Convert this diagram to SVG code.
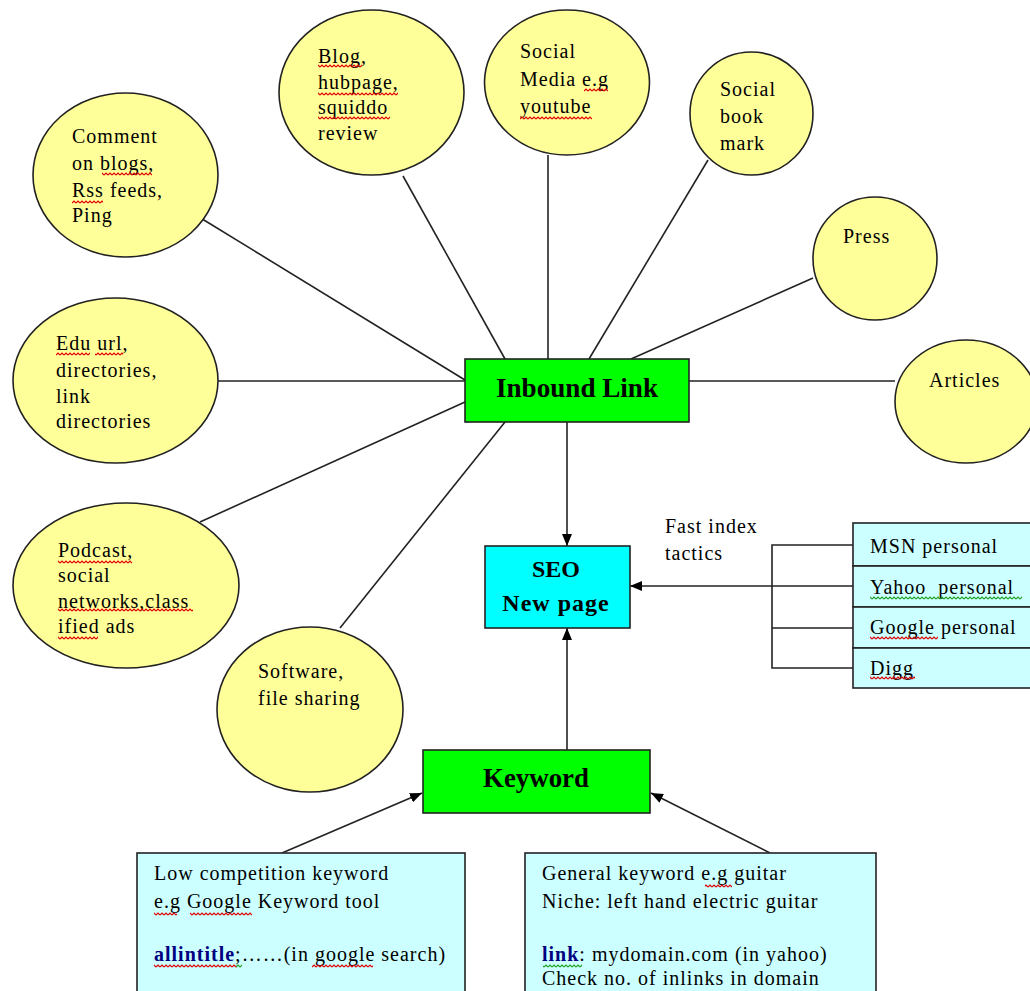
<svg xmlns="http://www.w3.org/2000/svg" width="1030" height="991" viewBox="0 0 1030 991">
<defs>
<style>
.el{fill:#FFFF99;stroke:#222;stroke-width:1.6}
.t{font-family:"Liberation Serif","Times New Roman",serif;font-size:20px;letter-spacing:1px;fill:#000}
.hb{font-family:"Liberation Serif","Times New Roman",serif;font-weight:bold;fill:#000}
.con{stroke:#222;stroke-width:1.6;fill:none}
.box{stroke:#222;stroke-width:1.6}
.lnk{font-weight:bold;fill:#000080}
.sr{fill:url(#sqR)}
.sg{fill:url(#sqG)}
</style>
<pattern id="sqR" width="4" height="4" patternUnits="userSpaceOnUse"><path d="M0,3 L2,1 L4,3" stroke="#E00000" stroke-width="1.2" fill="none"/></pattern>
<pattern id="sqG" width="4" height="4" patternUnits="userSpaceOnUse"><path d="M0,3 L2,1 L4,3" stroke="#22A022" stroke-width="1.2" fill="none"/></pattern>
<marker id="ah" viewBox="0 0 12 10" refX="12" refY="5" markerWidth="12" markerHeight="10" markerUnits="userSpaceOnUse" orient="auto"><path d="M0,0 L12,5 L0,10 z" fill="#000"/></marker>
</defs>
<rect width="1030" height="991" fill="#fff"/>

<g id="connectors">
<line class="con" x1="199" y1="217" x2="465" y2="380"/>
<line class="con" x1="403" y1="176" x2="505" y2="359"/>
<line class="con" x1="548" y1="155" x2="548" y2="359"/>
<line class="con" x1="708" y1="160" x2="589" y2="359"/>
<line class="con" x1="813" y1="278" x2="631" y2="359"/>
<line class="con" x1="689" y1="381" x2="895" y2="381"/>
<line class="con" x1="218" y1="381" x2="465" y2="381"/>
<line class="con" x1="200" y1="522" x2="465" y2="402"/>
<line class="con" x1="340" y1="628" x2="505" y2="422"/>
<line class="con" x1="567" y1="422" x2="567" y2="546" marker-end="url(#ah)"/>
<line class="con" x1="567" y1="750" x2="567" y2="628" marker-end="url(#ah)"/>
<line class="con" x1="853" y1="586" x2="630" y2="586" marker-end="url(#ah)"/>
<path class="con" d="M853,545 H772 V668 H853 M772,628 H853"/>
<line class="con" x1="282" y1="853" x2="422" y2="793" marker-end="url(#ah)"/>
<line class="con" x1="770" y1="853" x2="651" y2="793" marker-end="url(#ah)"/>
</g>

<g id="comment">
<ellipse class="el" cx="125.5" cy="175" rx="92.5" ry="82"/>
<text class="t" x="72" y="143">Comment</text>
<text class="t" x="72" y="170">on blogs,</text>
<text class="t" x="72" y="197">Rss feeds,</text>
<text class="t" x="72" y="222">Ping</text>
<rect class="sr" x="102" y="172" width="50" height="4"/>
<rect class="sr" x="72" y="200" width="31" height="4"/>
</g>

<g id="blog">
<ellipse class="el" cx="371.5" cy="92.5" rx="92.5" ry="82.5"/>
<text class="t" x="318" y="63">Blog,</text>
<text class="t" x="318" y="89">hubpage,</text>
<text class="t" x="318" y="114">squiddo</text>
<text class="t" x="318" y="140">review</text>
<rect class="sr" x="318" y="64" width="44" height="4"/>
<rect class="sr" x="318" y="92" width="80" height="4"/>
<rect class="sr" x="318" y="116" width="72" height="4"/>
</g>

<g id="social-media">
<ellipse class="el" cx="567" cy="82.5" rx="82.5" ry="72.5"/>
<text class="t" x="520" y="58">Social</text>
<text class="t" x="520" y="86">Media e.g</text>
<text class="t" x="520" y="113">youtube</text>
<rect class="sr" x="584" y="88" width="24" height="4"/>
<rect class="sr" x="520" y="116" width="72" height="4"/>
</g>

<g id="bookmark">
<ellipse class="el" cx="751.5" cy="113.5" rx="61.5" ry="61.5"/>
<text class="t" x="720" y="96">Social</text>
<text class="t" x="720" y="123">book</text>
<text class="t" x="720" y="150">mark</text>
</g>

<g id="press">
<ellipse class="el" cx="875" cy="258.5" rx="62" ry="61.5"/>
<text class="t" x="843" y="243">Press</text>
</g>

<g id="articles">
<ellipse class="el" cx="966" cy="401.5" rx="71" ry="61.5"/>
<text class="t" x="929" y="387">Articles</text>
</g>

<g id="edu">
<ellipse class="el" cx="115.5" cy="380.5" rx="102.5" ry="82.5"/>
<text class="t" x="56" y="350">Edu url,</text>
<text class="t" x="56" y="377">directories,</text>
<text class="t" x="56" y="403">link</text>
<text class="t" x="56" y="428">directories</text>
<rect class="sr" x="56" y="352" width="34" height="4"/>
<rect class="sr" x="95" y="352" width="28" height="4"/>
</g>

<g id="podcast">
<ellipse class="el" cx="126" cy="585.5" rx="113" ry="82.5"/>
<text class="t" x="58" y="557">Podcast,</text>
<text class="t" x="58" y="582">social</text>
<text class="t" x="58" y="608">networks,class</text>
<text class="t" x="58" y="633">ified ads</text>
<rect class="sr" x="58" y="560" width="74" height="4"/>
<rect class="sr" x="58" y="608" width="135" height="4"/>
<rect class="sr" x="58" y="636" width="40" height="4"/>
</g>

<g id="software">
<ellipse class="el" cx="310" cy="709.5" rx="93" ry="82.5"/>
<text class="t" x="258" y="678">Software,</text>
<text class="t" x="258" y="705">file sharing</text>
</g>

<g id="inbound-link">
<rect class="box" x="465" y="359" width="224" height="63" fill="#00FF00"/>
<text class="hb" x="577" y="397" font-size="27" text-anchor="middle" textLength="162" lengthAdjust="spacingAndGlyphs">Inbound Link</text>
</g>

<g id="seo">
<rect class="box" x="485" y="546" width="145" height="82" fill="#00FFFF"/>
<text class="hb" x="556" y="577" font-size="24" text-anchor="middle">SEO</text>
<text class="hb" x="556" y="611" font-size="24" text-anchor="middle" letter-spacing="1">New page</text>
</g>

<g id="fast-index-label">
<text class="t" x="665" y="533">Fast index</text>
<text class="t" x="665" y="560">tactics</text>
</g>

<g id="fast-index-list">
<rect class="box" x="853" y="523" width="200" height="43" fill="#CCFFFF"/>
<rect class="box" x="853" y="566" width="200" height="41" fill="#CCFFFF"/>
<rect class="box" x="853" y="607" width="200" height="41" fill="#CCFFFF"/>
<rect class="box" x="853" y="648" width="200" height="40" fill="#CCFFFF"/>
<text class="t" x="870" y="553">MSN personal</text>
<text class="t" x="870" y="594" xml:space="preserve">Yahoo  personal</text>
<text class="t" x="870" y="634">Google personal</text>
<text class="t" x="870" y="675">Digg</text>
<rect class="sg" x="870" y="596" width="152" height="4"/>
<rect class="sr" x="870" y="636" width="68" height="4"/>
<rect class="sr" x="870" y="676" width="45" height="4"/>
</g>

<g id="keyword">
<rect class="box" x="423" y="750" width="227" height="63" fill="#00FF00"/>
<text class="hb" x="536" y="787" font-size="27" text-anchor="middle" textLength="106" lengthAdjust="spacingAndGlyphs">Keyword</text>
</g>

<g id="low-competition">
<rect class="box" x="137" y="853" width="328" height="160" fill="#CCFFFF"/>
<text class="t" x="154" y="880">Low competition keyword</text>
<text class="t" x="154" y="908">e.g Google Keyword tool</text>
<text class="t" x="154" y="961"><tspan class="lnk">allintitle</tspan>;……(in google search)</text>
<rect class="sr" x="154" y="912" width="23" height="4"/>
<rect class="sr" x="190" y="912" width="62" height="4"/>
<rect class="sr" x="154" y="964" width="83" height="4"/>
<rect class="sg" x="236" y="964" width="6" height="4"/>
<rect class="sr" x="312" y="964" width="61" height="4"/>
</g>

<g id="general-keyword">
<rect class="box" x="525" y="853" width="351" height="160" fill="#CCFFFF"/>
<text class="t" x="542" y="880">General keyword e.g guitar</text>
<text class="t" x="542" y="908">Niche: left hand electric guitar</text>
<text class="t" x="542" y="961"><tspan class="lnk">link</tspan>: mydomain.com (in yahoo)</text>
<text class="t" x="542" y="985">Check no. of inlinks in domain</text>
<rect class="sr" x="705" y="884" width="27" height="4"/>
<rect class="sg" x="543" y="964" width="39" height="4"/>
</g>
</svg>
